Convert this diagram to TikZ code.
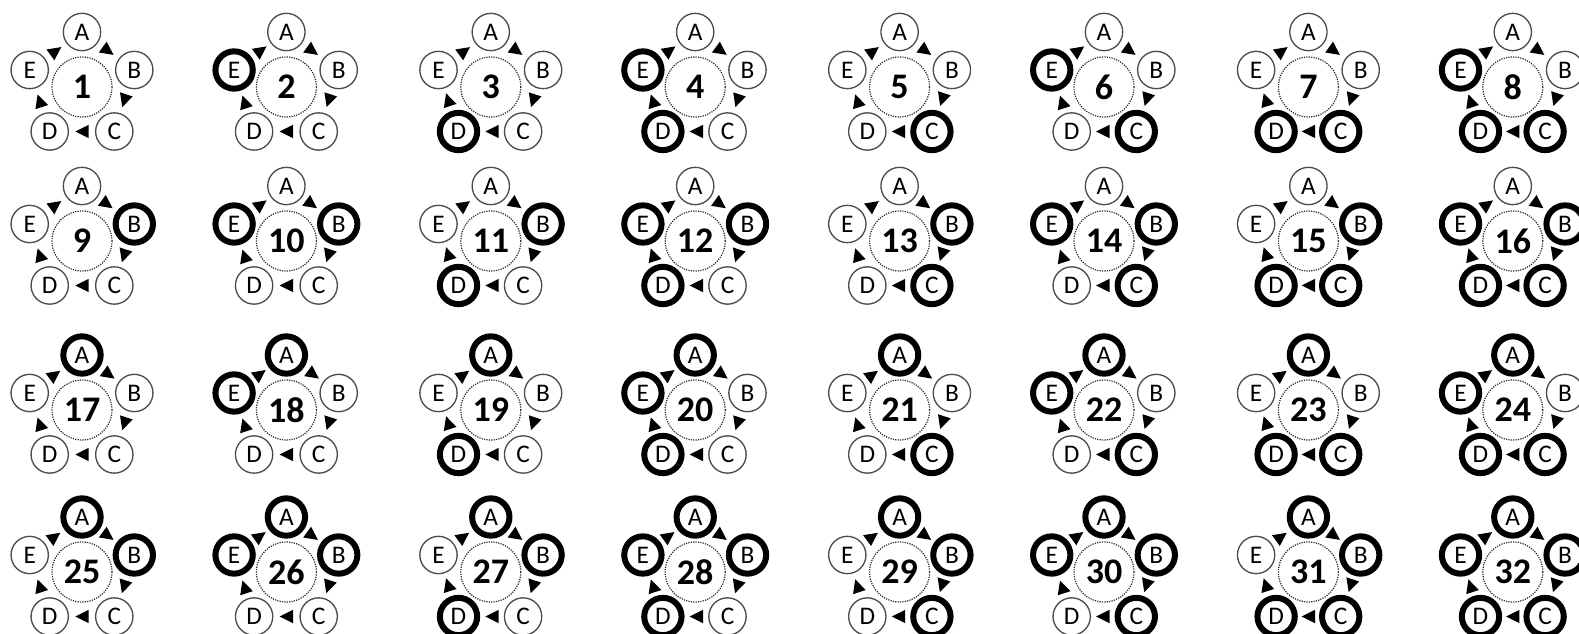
\documentclass[tikz,border=0pt]{standalone}
\usepackage{fontspec}
\setmainfont{Carlito}
\usetikzlibrary{decorations.markings}
\tikzset{
  hub/.style={
    circle,
    draw=black!85,
    line width=0.9pt,
    dash pattern=on 0.9pt off 0.9pt,
    minimum size=45pt,
    inner sep=0pt,
    font=\bfseries\fontsize{27}{27}\selectfont
  },
  site/.style={
    circle,
    draw=black!80,
    line width=#1,
    minimum size=28pt,
    inner sep=0pt,
    font=\fontsize{19}{19}\selectfont
  },
  tip/.style={
    decoration={markings,
      mark=at position 0.5 with {\fill (-5pt,-5pt) -- (5pt,0pt) -- (-5pt,5pt) -- cycle;}},
    postaction={decorate}
  }
}
\begin{document}
\begin{tikzpicture}[x=0.75pt, y=-0.75pt]
  \useasboundingbox (0,0) rectangle (1579,634);
  \foreach \n in {1,...,32}{
    \pgfmathsetmacro\cx{82+204.4*mod(\n-1,8)}
    \pgfmathsetmacro\cy{{87,241,410,572}[floor((\n-1)/8)]}
    \node[hub] (hub\n) at (\cx,\cy) {\n};
    % bold ring = bit k of n-1
    \foreach \lab/\dx/\dy/\k in {A/0/-55/4, B/52.3/-17/3, C/32.3/44.5/2, D/-32.3/44.5/1, E/-52.3/-17/0}{
      \pgfmathtruncatemacro\bit{mod(floor((\n-1)/2^\k),2)}
      \pgfmathsetmacro\ringw{1+3.5*\bit}
      \pgfmathtruncatemacro\ink{70+30*\bit}
      \node[site=\ringw pt, draw=black!\ink] (\lab\n) at (\cx+\dx,\cy+\dy) {\lab};
    }
    \foreach \s/\t in {A/B,B/C,C/D,D/E,E/A}
      \path[tip] (\s\n) -- (\t\n);
  }
\end{tikzpicture}
\end{document}
